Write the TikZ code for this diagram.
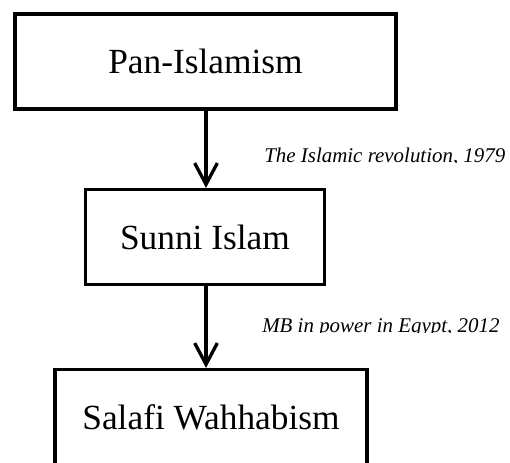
\documentclass[tikz,border=0pt]{standalone}
\usepackage{fontspec}
\setmainfont{Liberation Serif}
\usetikzlibrary{arrows.meta}

\tikzset{
  stagebox/.style={draw, line width=2.6pt, minimum height=71pt, inner sep=0pt,
    font=\fontsize{26.5}{31}\selectfont},
  eventlabel/.style={anchor=base west, inner sep=0pt,
    font=\fontsize{15.7}{19}\selectfont\itshape},
  shiftarrow/.style={line width=2.5pt, -{Straight Barb[length=16pt, width=17pt]}}
}

\begin{document}
\begin{tikzpicture}[x=0.75pt, y=-0.75pt]
  \clip (0,0) rectangle (510,462);
  % the three stages
  \node[stagebox, minimum width=286pt] (pan) at (205.5,61.5) {Pan-Islamism};
  \node[stagebox, minimum width=179pt] (sunni) at (205,237) {Sunni Islam};
  \node[stagebox, minimum width=234pt] (salafi) at (211,417) {Salafi Wahhabism};
  %
  \draw[shiftarrow] (pan.south -| 206,0) -- (sunni.north -| 206,0);
  \draw[shiftarrow] (sunni.south -| 206,0) -- (salafi.north -| 206,0);
  %
  \begin{scope}
    \clip (250,140) rectangle (510,162.5);
    \node[eventlabel] (revolution) at (264,162) {The Islamic revolution, 1979};
  \end{scope}
  \begin{scope}
    \clip (250,310) rectangle (510,332.5);
    \node[eventlabel] (egypt) at (262,332) {MB in power in Egypt, 2012};
  \end{scope}
\end{tikzpicture}
\end{document}
